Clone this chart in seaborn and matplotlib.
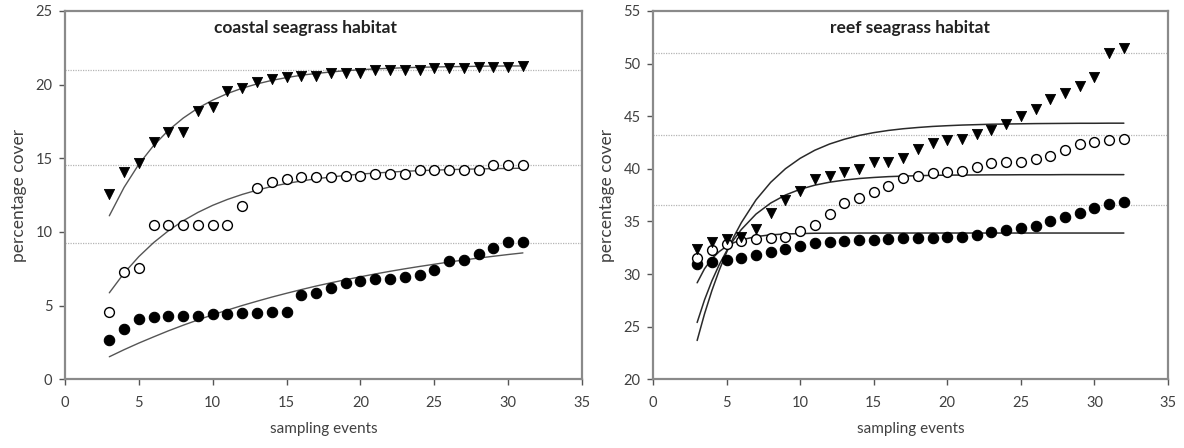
import numpy as np
import pandas as pd
import matplotlib
matplotlib.use("Agg")
import matplotlib.pyplot as plt
import seaborn as sns

# ---------------- data ----------------
# coastal seagrass habitat (sampling events 3..31)
coastal_x = list(range(3, 32))
coastal_tri = [12.6, 14.1, 14.7, 16.1, 16.8, 16.8, 18.2, 18.5, 19.6, 19.8, 20.2, 20.4, 20.5,
               20.6, 20.6, 20.8, 20.8, 20.8, 21.0, 21.0, 21.0, 21.0, 21.1, 21.1, 21.1, 21.2,
               21.2, 21.2, 21.3]
coastal_open = [4.6, 7.3, 7.55, 10.5, 10.5, 10.5, 10.5, 10.5, 10.5, 11.75, 13.0, 13.4, 13.6,
                13.75, 13.75, 13.75, 13.8, 13.8, 13.95, 13.95, 13.95, 14.2, 14.2, 14.2, 14.2,
                14.2, 14.58, 14.58, 14.58]
coastal_fill = [2.7, 3.4, 4.1, 4.2, 4.3, 4.3, 4.33, 4.4, 4.45, 4.47, 4.52, 4.54, 4.58,
                5.75, 5.87, 6.21, 6.51, 6.69, 6.8, 6.8, 6.92, 7.07, 7.41, 8.04, 8.13, 8.49,
                8.88, 9.29, 9.33]
# fitted curves (at each sampling event)
coastal_fit_tri = [11.10, 13.03, 14.60, 15.87, 16.90, 17.73, 18.41, 18.95, 19.40, 19.76,
                   20.05, 20.29, 20.48, 20.64, 20.76, 20.86, 20.95, 21.01, 21.07, 21.11,
                   21.15, 21.18, 21.20, 21.22, 21.23, 21.25, 21.26, 21.27, 21.27]
coastal_fit_open = [5.87, 7.21, 8.33, 9.28, 10.08, 10.76, 11.33, 11.81, 12.21, 12.55, 12.84,
                    13.09, 13.29, 13.46, 13.61, 13.73, 13.84, 13.93, 14.00, 14.06, 14.12,
                    14.16, 14.20, 14.23, 14.26, 14.28, 14.30, 14.31, 14.33]
coastal_fit_fill = [1.53, 2.01, 2.46, 2.88, 3.29, 3.67, 4.03, 4.38, 4.70, 5.01, 5.30, 5.58,
                    5.84, 6.09, 6.33, 6.55, 6.76, 6.96, 7.15, 7.33, 7.50, 7.66, 7.81, 7.96,
                    8.10, 8.23, 8.35, 8.47, 8.58]
coastal_ref = [21.0, 14.58, 9.26]

# reef seagrass habitat (sampling events 3..32)
reef_x = list(range(3, 33))
reef_tri = [32.35, 33.05, 33.3, 33.56, 34.26, 35.79, 37.06, 37.92, 39.04, 39.35, 39.67,
            39.99, 40.63, 40.69, 41.0, 41.9, 42.47, 42.7, 42.86, 43.33, 43.72, 44.29,
            45.02, 45.72, 46.61, 47.25, 47.89, 48.75, 50.97, 51.45]
reef_open = [31.56, 32.25, 32.89, 33.14, 33.3, 33.46, 33.56, 34.1, 34.64, 35.69, 36.71,
             37.22, 37.77, 38.4, 39.13, 39.35, 39.6, 39.67, 39.77, 40.15, 40.53, 40.63,
             40.69, 40.95, 41.26, 41.81, 42.38, 42.54, 42.7, 42.86]
reef_fill = [30.98, 31.14, 31.33, 31.49, 31.78, 32.13, 32.42, 32.67, 32.92, 33.05, 33.11,
             33.21, 33.27, 33.33, 33.4, 33.4, 33.46, 33.5, 33.56, 33.75, 33.97, 34.2,
             34.36, 34.61, 35.02, 35.43, 35.85, 36.27, 36.65, 36.87]
reef_fit_x = [3, 3.5, 4, 4.5, 5, 5.5, 6] + list(range(7, 33))
reef_fit_a = [23.69, 26.21, 28.42, 30.36, 32.07, 33.57, 34.88, 37.05, 38.72, 40.01, 41.00,
              41.77, 42.36, 42.81, 43.17, 43.44, 43.65, 43.81, 43.93, 44.03, 44.10, 44.16,
              44.20, 44.24, 44.26, 44.28, 44.30, 44.31, 44.32, 44.33, 44.33, 44.34, 44.34]
reef_fit_b = [25.40, 27.54, 29.35, 30.89, 32.19, 33.29, 34.23, 35.70, 36.75, 37.51, 38.06,
              38.45, 38.73, 38.93, 39.08, 39.18, 39.26, 39.31, 39.35, 39.38, 39.40, 39.41,
              39.42, 39.43, 39.43, 39.44, 39.44, 39.44, 39.45, 39.45, 39.45, 39.45, 39.45]
reef_fit_c = [29.17, 30.50, 31.46, 32.14, 32.64, 32.99, 33.25, 33.56, 33.73, 33.81, 33.85,
              33.88, 33.89, 33.90, 33.90, 33.90, 33.90, 33.90, 33.90, 33.90, 33.90, 33.90,
              33.90, 33.90, 33.90, 33.90, 33.90, 33.90, 33.90, 33.90, 33.90, 33.90, 33.90]
reef_ref = [51.0, 43.17, 36.58]

x_ticks = [0, 5, 10, 15, 20, 25, 30, 35]
coastal_yticks = [0, 5, 10, 15, 20, 25]
reef_yticks = [20, 25, 30, 35, 40, 45, 50, 55]

# ---------------- style ----------------
sns.set_theme(style="white")
plt.rcParams['font.family'] = ['Lato', 'DejaVu Sans']

fig = plt.figure(figsize=(11.84, 4.48), dpi=100)
ax1 = fig.add_axes([65 / 1184, 68.7 / 448, 517 / 1184, 368.3 / 448])
ax2 = fig.add_axes([653 / 1184, 68.7 / 448, 515 / 1184, 368.3 / 448])

spine_col = "#8a8a8a"
text_col = "#404040"


def draw(ax, x, tri, opn, fil, fit_x_list, fits, fit_col, fit_lw, refs, ylim, yticks, title, tx):
    for r in refs:
        ax.axhline(r, color="#b5b5b5", lw=0.9, ls=(0, (1, 1)), zorder=1)
    for fx, fy in zip(fit_x_list, fits):
        df = pd.DataFrame({"x": fx, "y": fy})
        sns.lineplot(data=df, x="x", y="y", ax=ax, color=fit_col, lw=fit_lw,
                     sort=False, estimator=None, zorder=2)
    sns.scatterplot(x=x, y=fil, ax=ax, marker="o", s=56, color="black",
                    edgecolor="black", linewidth=0.8, zorder=3)
    sns.scatterplot(x=x, y=opn, ax=ax, marker="o", s=50, facecolor="white",
                    edgecolor="black", linewidth=1.0, zorder=4)
    sns.scatterplot(x=x, y=tri, ax=ax, marker="v", s=54, color="black",
                    edgecolor="black", linewidth=0.6, zorder=5)
    ax.set_xlim(0, 35)
    ax.set_ylim(*ylim)
    ax.set_xticks(x_ticks)
    ax.set_yticks(yticks)
    ax.set_xticklabels([str(t) for t in x_ticks])
    ax.set_yticklabels([str(t) for t in yticks])
    ax.tick_params(axis="both", which="major", direction="out", length=4, width=1,
                   color="#555555", labelsize=10.5, labelcolor=text_col, pad=5)
    ax.tick_params(axis="x", pad=8)
    ax.xaxis.set_ticks_position("bottom")
    ax.yaxis.set_ticks_position("left")
    for s in ax.spines.values():
        s.set_color(spine_col)
        s.set_linewidth(1.6)
        s.set_visible(True)
    ax.set_xlabel("sampling events", fontsize=11, color=text_col, labelpad=9)
    ax.set_ylabel("percentage cover", fontsize=12.5, color=text_col, labelpad=6)
    ax.text(tx, 0.955, title, transform=ax.transAxes, ha="center", va="center",
            fontsize=12.5, fontweight="bold", color="#222222")


draw(ax1, coastal_x, coastal_tri, coastal_open, coastal_fill,
     [coastal_x, coastal_x, coastal_x],
     [coastal_fit_tri, coastal_fit_open, coastal_fit_fill],
     "#555555", 1.0, coastal_ref, (0, 25), coastal_yticks, "coastal seagrass habitat", 0.465)
draw(ax2, reef_x, reef_tri, reef_open, reef_fill,
     [reef_fit_x, reef_fit_x, reef_fit_x],
     [reef_fit_a, reef_fit_b, reef_fit_c],
     "#2a2a2a", 1.1, reef_ref, (20, 55), reef_yticks, "reef seagrass habitat", 0.5)

fig.savefig("out.png", dpi=100)
